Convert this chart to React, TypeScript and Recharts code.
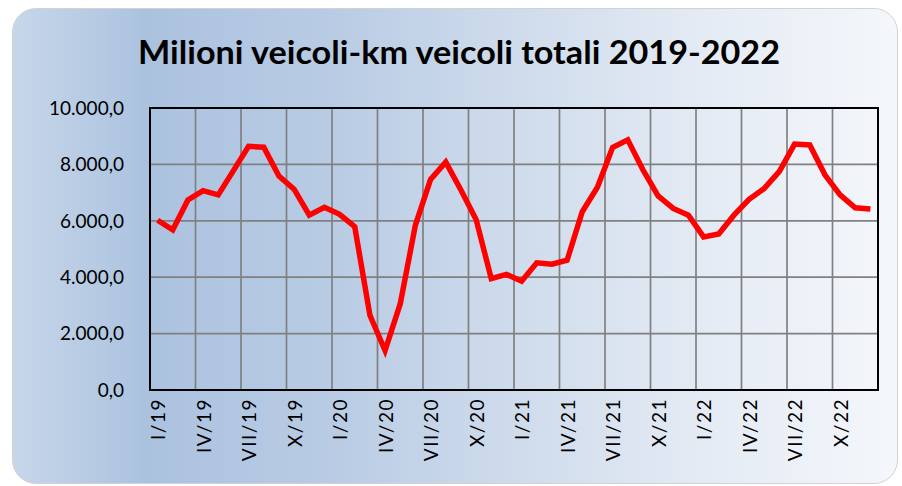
import React from 'react';
import { LineChart, Line, XAxis, YAxis, CartesianGrid, ReferenceArea } from 'recharts';

const months = [
  'I/19', 'II/19', 'III/19', 'IV/19', 'V/19', 'VI/19', 'VII/19', 'VIII/19', 'IX/19', 'X/19', 'XI/19', 'XII/19',
  'I/20', 'II/20', 'III/20', 'IV/20', 'V/20', 'VI/20', 'VII/20', 'VIII/20', 'IX/20', 'X/20', 'XI/20', 'XII/20',
  'I/21', 'II/21', 'III/21', 'IV/21', 'V/21', 'VI/21', 'VII/21', 'VIII/21', 'IX/21', 'X/21', 'XI/21', 'XII/21',
  'I/22', 'II/22', 'III/22', 'IV/22', 'V/22', 'VI/22', 'VII/22', 'VIII/22', 'IX/22', 'X/22', 'XI/22', 'XII/22',
];

const values2019 = [6020, 5680, 6740, 7070, 6920, 7780, 8640, 8610, 7590, 7120, 6200, 6480];
const values2020 = [6230, 5790, 2650, 1400, 3060, 5850, 7470, 8080, 7090, 6050, 3950, 4100];
const values2021 = [3860, 4510, 4460, 4600, 6320, 7190, 8600, 8870, 7810, 6880, 6440, 6200];
const values2022 = [5430, 5530, 6200, 6760, 7150, 7750, 8720, 8690, 7630, 6920, 6460, 6420];

const yTicks = [0, 2000, 4000, 6000, 8000, 10000];
const xLabelIdx = [0, 3, 6, 9, 12, 15, 18, 21, 24, 27, 30, 33, 36, 39, 42, 45];

const allValues = [...values2019, ...values2020, ...values2021, ...values2022];
const data = allValues.map((v, i) => ({ i, month: months[i], v }));

const fmt = (n: number) =>
  Math.round(n).toString().replace(/\B(?=(\d{3})+(?!\d))/g, '.') + ',0';

const XTick = (props: any) => {
  const { x, y, payload } = props;
  return (
    <text
      x={x}
      y={y}
      transform={`rotate(-90, ${x}, ${y})`}
      textAnchor="end"
      dominantBaseline="central"
      fontFamily="Lato, 'Open Sans', sans-serif"
      fontSize={19}
      letterSpacing={1.5}
      fill="#000"
    >
      {months[payload.value]}
    </text>
  );
};

export default function App() {
  const groups = months.length / 3;
  return (
    <div style={{ position: 'absolute', left: 0, top: 0, width: 902, height: 486, overflow: 'hidden', background: '#fff' }}>
      <div
        style={{
          position: 'absolute',
          left: 12,
          top: 8,
          width: 886,
          height: 476,
          boxSizing: 'border-box',
          borderRadius: 24,
          border: '1.5px solid #d2d2d2',
          background: 'linear-gradient(to right, #c7d7ea 0%, #abc2df 15%, #b8cbe4 35%, #d2deed 60%, #e6ecf5 80%, #f4f7fb 100%)',
        }}
      />
      <svg width={902} height={486} style={{ position: 'absolute', left: 0, top: 0 }}>
        <text
          x={459}
          y={64}
          textAnchor="middle"
          fontFamily="Lato, 'Open Sans', sans-serif"
          fontWeight="bold"
          fontSize={33}
          textLength={642}
          lengthAdjust="spacingAndGlyphs"
          fill="#000"
        >
          Milioni veicoli-km veicoli totali 2019-2022
        </text>
      </svg>
      <div style={{ position: 'absolute', left: 0, top: 0 }}>
        <LineChart width={902} height={486} data={data} margin={{ top: 108, right: 24, left: 90, bottom: 6 }}>
          <CartesianGrid
            stroke="#808080"
            strokeWidth={1.7}
            verticalCoordinatesGenerator={({ offset }: any) =>
              Array.from({ length: groups - 1 }, (_, k) => offset.left + (offset.width * (k + 1)) / groups)
            }
          />
          <XAxis
            dataKey="i"
            type="number"
            domain={[-0.5, months.length - 0.5]}
            ticks={xLabelIdx}
            interval={0}
            tickLine={false}
            axisLine={false}
            tickSize={0}
            tickMargin={8}
            height={90}
            tick={<XTick />}
          />
          <YAxis
            type="number"
            domain={[0, 10000]}
            ticks={yTicks}
            tickFormatter={fmt}
            tickLine={false}
            axisLine={false}
            tickSize={0}
            tickMargin={26}
            width={60}
            tick={{ fill: '#000', fontSize: 19, fontFamily: "Lato, 'Open Sans', sans-serif" }}
          />
          <ReferenceArea
            x1={-0.5}
            x2={months.length - 0.5}
            y1={0}
            y2={10000}
            fill="none"
            stroke="#000"
            strokeWidth={2}
            ifOverflow="extendDomain"
          />
          <Line
            type="linear"
            dataKey="v"
            stroke="#ff0000"
            strokeWidth={5.5}
            dot={false}
            isAnimationActive={false}
          />
        </LineChart>
      </div>
    </div>
  );
}
